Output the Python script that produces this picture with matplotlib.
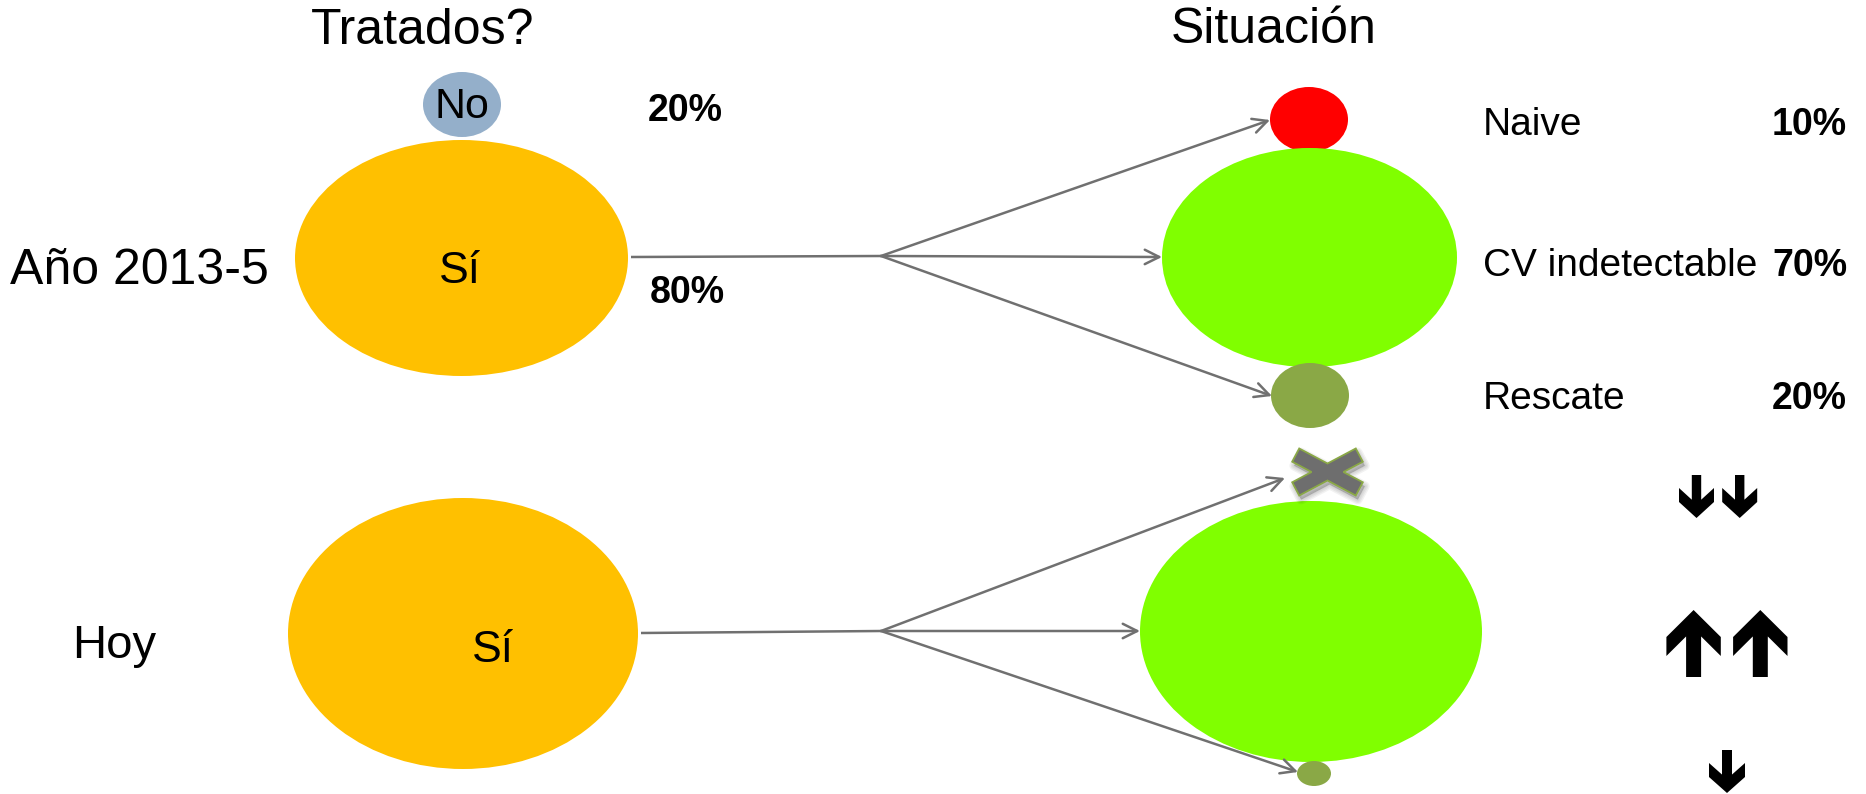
import matplotlib
matplotlib.use("Agg")
import matplotlib.pyplot as plt
import numpy as np
from matplotlib.patches import Ellipse, Polygon

plt.rcParams["font.family"] = ["Liberation Sans", "DejaVu Sans"]

# ---------- data ----------
periods = ["Año 2013-5", "Hoy"]
treated_labels = ["No", "Sí"]
treated_pct = [20, 80]
outcome_labels = ["Naive", "CV indetectable", "Rescate"]
outcome_pct = [10, 70, 20]
# change seen today for each outcome: direction (+1 up, -1 down) and arrow count
trend_dir = [-1, 1, -1]
trend_count = [2, 2, 1]

# ---------- colours ----------
GREY = "#707070"
OLIVE = "#8AA846"
YELLOW = "#FFC000"
LIME = "#80FF00"
NO_BLUE = "#94AFCA"
RED = "#FF0000"

W, H = 1866, 794
fig = plt.figure(figsize=(W / 100, H / 100), dpi=100)
ax = fig.add_axes([0, 0, 1, 1])
ax.set_xlim(0, W)
ax.set_ylim(H, 0)
ax.axis("off")


def blob(xy, w, h, color, z=2):
    ax.add_patch(Ellipse(xy, w, h, facecolor=color, edgecolor="none", zorder=z))


def flow(start, branch, tips):
    ax.plot([start[0], branch[0]], [start[1], branch[1]], color=GREY, lw=1.8,
            solid_capstyle="butt", zorder=1)
    for tip in tips:
        ax.annotate("", xy=tip, xytext=branch,
                    arrowprops=dict(arrowstyle="->", color=GREY, lw=1.8,
                                    shrinkA=0, shrinkB=0, mutation_scale=26),
                    zorder=3)


def block_arrow(xc, tip_y, d, length, hw, shw, hl, ht):
    # chevron-headed block arrow; d=+1 points up, d=-1 points down
    slope = hl / hw
    sj = hl + ht - (hw - shw) * slope
    s = [0, hl, hl + ht, sj, length, length, sj, hl + ht, hl]
    t = [0, -hw, -hw, -shw, -shw, shw, shw, hw, hw]
    pts = np.column_stack([xc + np.array(t), tip_y + d * np.array(s)])
    ax.add_patch(Polygon(pts, closed=True, facecolor="black", edgecolor="none", zorder=4))


def cross_points(cx, cy, L, h, a_deg):
    angles = [-a_deg, a_deg, 180 - a_deg, 180 + a_deg]
    c = np.array([cx, cy])
    pts = []
    for i, th in enumerate(angles):
        r = np.radians(th)
        u = np.array([np.cos(r), np.sin(r)])
        n = np.array([-np.sin(r), np.cos(r)])
        pts.append(c + L * u - h * n)
        pts.append(c + L * u + h * n)
        nxt = angles[(i + 1) % 4] + (360 if i == 3 else 0)
        phi = np.radians((th + nxt) / 2)
        dist = h / np.sin(np.radians(nxt - th) / 2)
        pts.append(c + dist * np.array([np.cos(phi), np.sin(phi)]))
    return np.array(pts)


# ---------- column titles ----------
ax.text(423, 44, "Tratados?", fontsize=36, ha="center", va="baseline")
ax.text(1274, 43, "Situación", fontsize=36, ha="center", va="baseline")

# ---------- row 1: 2013-5 ----------
ax.text(10, 284, periods[0], fontsize=36, ha="left", va="baseline")
blob((462, 104.5), 78, 65, NO_BLUE)
blob((461.5, 258), 333, 236, YELLOW)
ax.text(462, 118, treated_labels[0], fontsize=31, ha="center", va="baseline", zorder=5)
ax.text(460, 283, treated_labels[1], fontsize=32, ha="center", va="baseline", zorder=5)
ax.text(648, 121, f"{treated_pct[0]}%", fontsize=27, fontweight="bold", ha="left", va="baseline")
ax.text(650, 303, f"{treated_pct[1]}%", fontsize=27, fontweight="bold", ha="left", va="baseline")

blob((1309, 119.5), 78, 65, RED)
blob((1309.5, 257.5), 295, 219, LIME)
blob((1310, 395.5), 78, 65, OLIVE)
flow((631, 257), (881, 256), [(1270, 120), (1162, 257), (1272, 396)])

label_base = [135, 276, 409]
for lab, pct, yb in zip(outcome_labels, outcome_pct, label_base):
    ax.text(1483, yb, lab, fontsize=28, ha="left", va="baseline")
    ax.text(1847, yb, f"{pct}%", fontsize=27, fontweight="bold", ha="right", va="baseline")

# ---------- row 2: today ----------
ax.text(72, 658, periods[1], fontsize=34, ha="left", va="baseline")
blob((463, 633.5), 350, 271, YELLOW)
ax.text(493, 662, treated_labels[1], fontsize=32, ha="center", va="baseline", zorder=5)

blob((1311, 631.5), 342, 261, LIME)
blob((1314, 773.5), 34, 25, OLIVE)
flow((641, 633), (881, 631), [(1285, 478), (1140, 631), (1298, 772)])

# naive patients no longer present: crossed out
xpts = cross_points(1327.5, 472, 36, 7.5, 28)
for k in range(4):
    ax.add_patch(Polygon(xpts + np.array([2, 4]), closed=True, facecolor="black",
                         edgecolor="black", lw=1 + 2 * k, alpha=0.05,
                         joinstyle="round", zorder=4))
ax.add_patch(Polygon(xpts, closed=True, facecolor="#6E6E6E", edgecolor=OLIVE,
                     lw=1.3, zorder=5))

# trend arrows next to each outcome
trend_geom = [
    dict(tip_y=518, x0=1696.5, gap=43.2, length=43, hw=17.5, shw=4.7, hl=16, ht=14),
    dict(tip_y=610, x0=1693.6, gap=66.7, length=67, hw=27.2, shw=7.5, hl=27, ht=19),
    dict(tip_y=793, x0=1727.0, gap=43.2, length=43, hw=18.0, shw=5.0, hl=16, ht=14),
]
for d, n, g in zip(trend_dir, trend_count, trend_geom):
    for k in range(n):
        block_arrow(g["x0"] + k * g["gap"], g["tip_y"], d, g["length"],
                    g["hw"], g["shw"], g["hl"], g["ht"])

fig.savefig("out.png", dpi=100)
